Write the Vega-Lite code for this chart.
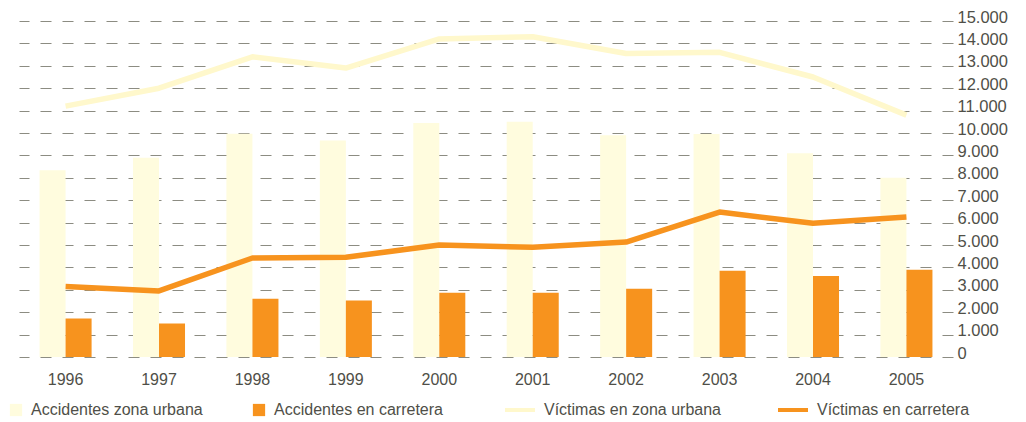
{
  "$schema": "https://vega.github.io/schema/vega-lite/v6.json",
  "width": 934,
  "height": 336,
  "autosize": {"type": "none"},
  "padding": {"left": 19, "top": 21, "right": 73, "bottom": 65},
  "background": "white",
  "config": {
    "view": {"stroke": null},
    "font": "Liberation Sans",
    "locale": {"number": {"decimal": ",", "thousands": ".", "grouping": [3], "currency": ["", " €"]}}
  },
  "data": {
    "values": [
      {"year": "1996", "serie": "Accidentes zona urbana", "tipo": "bar", "value": 8340},
      {"year": "1997", "serie": "Accidentes zona urbana", "tipo": "bar", "value": 8900},
      {"year": "1998", "serie": "Accidentes zona urbana", "tipo": "bar", "value": 9970},
      {"year": "1999", "serie": "Accidentes zona urbana", "tipo": "bar", "value": 9660},
      {"year": "2000", "serie": "Accidentes zona urbana", "tipo": "bar", "value": 10450},
      {"year": "2001", "serie": "Accidentes zona urbana", "tipo": "bar", "value": 10500},
      {"year": "2002", "serie": "Accidentes zona urbana", "tipo": "bar", "value": 9900},
      {"year": "2003", "serie": "Accidentes zona urbana", "tipo": "bar", "value": 9950},
      {"year": "2004", "serie": "Accidentes zona urbana", "tipo": "bar", "value": 9100},
      {"year": "2005", "serie": "Accidentes zona urbana", "tipo": "bar", "value": 8000},
      {"year": "1996", "serie": "Accidentes en carretera", "tipo": "bar", "value": 1720},
      {"year": "1997", "serie": "Accidentes en carretera", "tipo": "bar", "value": 1500},
      {"year": "1998", "serie": "Accidentes en carretera", "tipo": "bar", "value": 2600},
      {"year": "1999", "serie": "Accidentes en carretera", "tipo": "bar", "value": 2520},
      {"year": "2000", "serie": "Accidentes en carretera", "tipo": "bar", "value": 2870},
      {"year": "2001", "serie": "Accidentes en carretera", "tipo": "bar", "value": 2870},
      {"year": "2002", "serie": "Accidentes en carretera", "tipo": "bar", "value": 3050},
      {"year": "2003", "serie": "Accidentes en carretera", "tipo": "bar", "value": 3850},
      {"year": "2004", "serie": "Accidentes en carretera", "tipo": "bar", "value": 3620},
      {"year": "2005", "serie": "Accidentes en carretera", "tipo": "bar", "value": 3900},
      {"year": "1996", "serie": "Víctimas en zona urbana", "tipo": "line", "value": 11200},
      {"year": "1997", "serie": "Víctimas en zona urbana", "tipo": "line", "value": 12000},
      {"year": "1998", "serie": "Víctimas en zona urbana", "tipo": "line", "value": 13400},
      {"year": "1999", "serie": "Víctimas en zona urbana", "tipo": "line", "value": 12900},
      {"year": "2000", "serie": "Víctimas en zona urbana", "tipo": "line", "value": 14200},
      {"year": "2001", "serie": "Víctimas en zona urbana", "tipo": "line", "value": 14300},
      {"year": "2002", "serie": "Víctimas en zona urbana", "tipo": "line", "value": 13550},
      {"year": "2003", "serie": "Víctimas en zona urbana", "tipo": "line", "value": 13600},
      {"year": "2004", "serie": "Víctimas en zona urbana", "tipo": "line", "value": 12500},
      {"year": "2005", "serie": "Víctimas en zona urbana", "tipo": "line", "value": 10800},
      {"year": "1996", "serie": "Víctimas en carretera", "tipo": "line", "value": 3150},
      {"year": "1997", "serie": "Víctimas en carretera", "tipo": "line", "value": 2950},
      {"year": "1998", "serie": "Víctimas en carretera", "tipo": "line", "value": 4420},
      {"year": "1999", "serie": "Víctimas en carretera", "tipo": "line", "value": 4450},
      {"year": "2000", "serie": "Víctimas en carretera", "tipo": "line", "value": 5000},
      {"year": "2001", "serie": "Víctimas en carretera", "tipo": "line", "value": 4900},
      {"year": "2002", "serie": "Víctimas en carretera", "tipo": "line", "value": 5130},
      {"year": "2003", "serie": "Víctimas en carretera", "tipo": "line", "value": 6470},
      {"year": "2004", "serie": "Víctimas en carretera", "tipo": "line", "value": 5970},
      {"year": "2005", "serie": "Víctimas en carretera", "tipo": "line", "value": 6250}
    ]
  },
  "encoding": {
    "x": {
      "field": "year",
      "type": "ordinal",
      "scale": {"paddingInner": 0.443, "paddingOuter": 0.22},
      "axis": {
        "title": null,
        "domain": false,
        "ticks": false,
        "labelAngle": 0,
        "labelPadding": 14,
        "labelFontSize": 16,
        "labelColor": "#4f4f48",
        "grid": false
      }
    },
    "y": {
      "field": "value",
      "type": "quantitative",
      "scale": {"domain": [0, 15000], "nice": false},
      "axis": {
        "orient": "right",
        "title": null,
        "domain": false,
        "ticks": false,
        "values": [0, 1000, 2000, 3000, 4000, 5000, 6000, 7000, 8000, 9000, 10000, 11000, 12000, 13000, 14000, 15000],
        "format": ",d",
        "labelPadding": 4,
        "labelOffset": -4,
        "labelFontSize": 16.5,
        "labelColor": "#4f4f48",
        "grid": true,
        "gridDash": [11, 11],
        "gridColor": "#8c8c82",
        "gridWidth": 1.2
      }
    }
  },
  "layer": [
    {
      "transform": [{"filter": "datum.tipo == 'bar'"}],
      "mark": {"type": "bar"},
      "encoding": {
        "xOffset": {"field": "serie", "type": "nominal", "sort": ["Accidentes zona urbana", "Accidentes en carretera"]},
        "fill": {
          "field": "serie",
          "type": "nominal",
          "scale": {"domain": ["Accidentes zona urbana", "Accidentes en carretera"], "range": ["#FFFCDE", "#F7931E"]},
          "legend": {
            "orient": "none",
            "legendX": -11,
            "legendY": 381,
            "direction": "horizontal",
            "title": null,
            "symbolType": "square",
            "symbolSize": 150,
            "symbolStrokeWidth": 0,
            "labelFontSize": 16,
            "labelLimit": 400,
            "labelColor": "#4f4f48",
            "labelOffset": 7,
            "columnPadding": 48
          }
        }
      }
    },
    {
      "transform": [{"filter": "datum.tipo == 'line'"}],
      "mark": {"type": "line", "strokeWidth": 5.5, "strokeJoin": "round"},
      "encoding": {
        "stroke": {
          "field": "serie",
          "type": "nominal",
          "scale": {"domain": ["Víctimas en zona urbana", "Víctimas en carretera"], "range": ["#FFF8CC", "#F7931E"]},
          "legend": {
            "orient": "none",
            "legendX": 484,
            "legendY": 372,
            "direction": "horizontal",
            "title": null,
            "symbolType": "stroke",
            "symbolSize": 900,
            "symbolStrokeWidth": 4,
            "labelFontSize": 16,
            "labelLimit": 400,
            "labelColor": "#4f4f48",
            "labelOffset": 7,
            "columnPadding": 49
          }
        }
      }
    }
  ]
}
